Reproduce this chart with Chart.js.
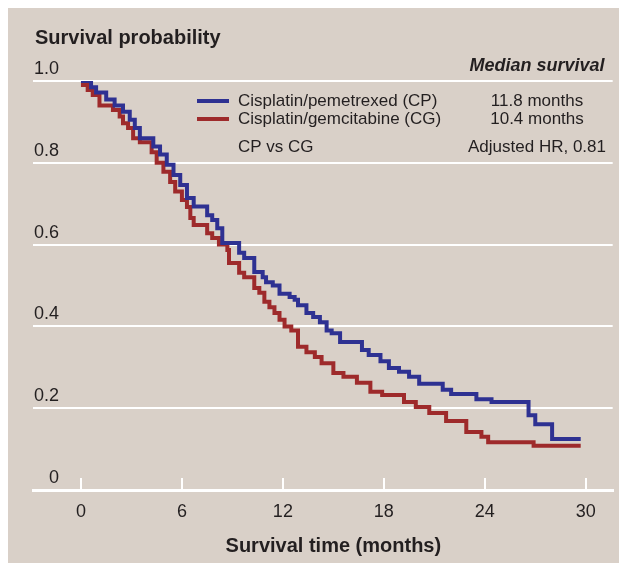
<!DOCTYPE html>
<html>
<head>
<meta charset="utf-8">
<script src="https://cdn.jsdelivr.net/npm/chart.js@4.4.1/dist/chart.umd.min.js"></script>
<style>
  html, body { margin: 0; background: #fff; }
  #panel { position: absolute; left: 8px; top: 8px; width: 611px; height: 555px; background: #d9d0c8; }
  canvas { display: block; }
</style>
</head>
<body>
<div id="panel"><canvas id="km" width="611" height="555"></canvas></div>
<script>
// Kaplan-Meier steps (months, survival probability)
const cpMonths = [0, 0.6, 0.9, 1.5, 2.0, 2.5, 2.9, 3.2, 3.5, 4.3, 4.7, 5.1, 5.5, 5.9, 6.3, 6.7, 7.5, 7.8, 8.1, 8.4,
  9.4, 9.7, 10.3, 10.8, 11.0, 11.4, 11.8, 12.4, 12.7, 12.9, 13.4, 13.8, 14.2, 14.6, 14.9, 15.4, 16.7, 17.1, 17.8, 18.3,
  18.9, 19.5, 20.1, 21.5, 22.0, 23.5, 24.4, 26.6, 27.0, 28.0, 29.7];
const cpSurv = [1.0, 0.985, 0.972, 0.955, 0.94, 0.925, 0.905, 0.885, 0.86, 0.84, 0.82, 0.795, 0.77, 0.746, 0.714, 0.693, 0.672, 0.66, 0.64, 0.604,
  0.58, 0.567, 0.533, 0.52, 0.508, 0.5, 0.48, 0.472, 0.465, 0.452, 0.433, 0.423, 0.41, 0.39, 0.383, 0.362, 0.342, 0.33, 0.315, 0.298,
  0.289, 0.277, 0.26, 0.245, 0.235, 0.222, 0.215, 0.183, 0.161, 0.125, 0.125];

const cgMonths = [0, 0.4, 0.7, 1.1, 1.9, 2.3, 2.5, 2.8, 3.1, 3.5, 4.2, 4.5, 4.9, 5.3, 5.6, 6.0, 6.3, 6.5, 6.7, 7.5,
  7.8, 8.2, 8.7, 8.8, 9.4, 9.7, 10.3, 10.6, 10.9, 11.2, 11.5, 11.8, 12.1, 12.5, 12.9, 13.4, 13.9, 14.3, 15.0, 15.6,
  16.4, 17.2, 17.9, 19.2, 19.9, 20.7, 21.7, 22.9, 23.8, 24.2, 26.9, 29.7];
const cgSurv = [0.99, 0.978, 0.966, 0.94, 0.929, 0.913, 0.897, 0.885, 0.86, 0.85, 0.826, 0.8, 0.778, 0.753, 0.73, 0.709, 0.692, 0.665, 0.648, 0.628,
  0.616, 0.6, 0.587, 0.555, 0.531, 0.52, 0.494, 0.482, 0.46, 0.447, 0.433, 0.416, 0.4, 0.39, 0.35, 0.337, 0.325, 0.31, 0.286, 0.277,
  0.262, 0.24, 0.232, 0.215, 0.203, 0.188, 0.169, 0.142, 0.13, 0.117, 0.108, 0.108];

const seriesNames = ['Cisplatin/pemetrexed (CP)', 'Cisplatin/gemcitabine (CG)'];
const medianText = ['11.8 months', '10.4 months'];
const xTicks = [0, 6, 12, 18, 24, 30];
const yTicks = [0, 0.2, 0.4, 0.6, 0.8, 1.0];
const yTickLabels = ['0', '0.2', '0.4', '0.6', '0.8', '1.0'];

const blue = '#2e3192';
const red = '#9e2a2b';
const ink = '#231f20';
const FONT = '"Liberation Sans", Arial, sans-serif';

const toPoints = (xs, ys) => xs.map((x, i) => ({ x: x, y: ys[i] }));

const annotations = {
  id: 'annotations',
  afterDraw(chart) {
    const ctx = chart.ctx;
    const xs = chart.scales.x;
    ctx.save();
    ctx.fillStyle = ink;
    ctx.textBaseline = 'middle';

    ctx.font = 'bold 20px ' + FONT;
    ctx.textAlign = 'left';
    ctx.fillText('Survival probability', 27, 30);
    ctx.textAlign = 'center';
    ctx.fillText('Survival time (months)', xs.getPixelForValue(15), 538);

    ctx.font = 'italic bold 18px ' + FONT;
    ctx.fillText('Median survival', 529, 58);

    // legend
    const colors = [blue, red];
    const rows = [93, 111];
    ctx.font = '17px ' + FONT;
    rows.forEach((y, i) => {
      ctx.strokeStyle = colors[i];
      ctx.lineWidth = 4;
      ctx.beginPath();
      ctx.moveTo(189, y);
      ctx.lineTo(221, y);
      ctx.stroke();
      ctx.textAlign = 'left';
      ctx.fillText(seriesNames[i], 230, y);
      ctx.textAlign = 'center';
      ctx.fillText(medianText[i], 529, y);
    });
    ctx.textAlign = 'left';
    ctx.fillText('CP vs CG', 230, 139);
    ctx.textAlign = 'center';
    ctx.fillText('Adjusted HR, 0.81', 529, 139);
    ctx.restore();
  }
};

new Chart(document.getElementById('km'), {
  type: 'line',
  data: {
    datasets: [
      {
        label: seriesNames[0],
        data: toPoints(cpMonths, cpSurv),
        borderColor: blue,
        borderWidth: 4,
        stepped: true,
        pointRadius: 0,
        fill: false,
        borderJoinStyle: 'miter'
      },
      {
        label: seriesNames[1],
        data: toPoints(cgMonths, cgSurv),
        borderColor: red,
        borderWidth: 4,
        stepped: true,
        pointRadius: 0,
        fill: false,
        borderJoinStyle: 'miter'
      }
    ]
  },
  options: {
    responsive: false,
    animation: false,
    layout: { padding: { left: 25, right: 5, top: 73, bottom: 0 } },
    plugins: {
      legend: { display: false },
      tooltip: { enabled: false }
    },
    scales: {
      x: {
        type: 'linear',
        min: -2.85,
        max: 31.6,
        afterBuildTicks: (s) => { s.ticks = xTicks.map(v => ({ value: v })); },
        afterFit: (s) => { s.height = 73; },
        grid: { drawOnChartArea: false, drawTicks: true, tickLength: -12, color: '#fff', lineWidth: 2 },
        border: { display: true, color: '#fff', width: 3 },
        ticks: { color: ink, font: { family: FONT, size: 18 }, padding: 23, maxRotation: 0 }
      },
      y: {
        min: 0,
        max: 1,
        afterBuildTicks: (s) => { s.ticks = yTicks.map(v => ({ value: v })); },
        afterFit: (s) => { s.width = 0; },
        grid: { color: '#fff', lineWidth: 2, drawTicks: false },
        border: { display: false },
        ticks: {
          mirror: true,
          crossAlign: 'far',
          padding: 1,
          labelOffset: -12,
          color: ink,
          font: { family: FONT, size: 18 },
          callback: (v, i) => yTickLabels[i]
        }
      }
    }
  },
  plugins: [annotations]
});
</script>
</body>
</html>
